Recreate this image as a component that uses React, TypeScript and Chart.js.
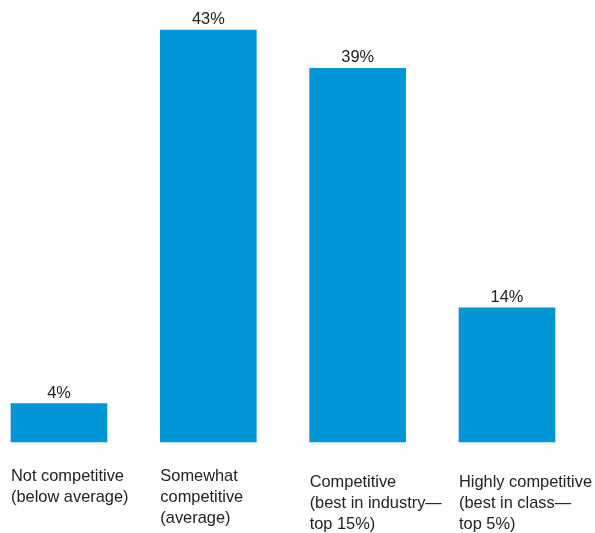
import React, { useEffect, useRef } from "react";
import { Chart, registerables } from "chart.js";

Chart.register(...registerables);

const categories: string[][] = [
  ["Not competitive", "(below average)"],
  ["Somewhat", "competitive", "(average)"],
  ["Competitive", "(best in industry\u2014", "top 15%)"],
  ["Highly competitive", "(best in class\u2014", "top 5%)"],
];
const values: number[] = [4, 43, 39, 14];
const valueLabels: string[] = ["4%", "43%", "39%", "14%"];

const BAR_COLOR = "#0096d6";
const TEXT_COLOR = "#222222";
const FONT = "16.4px 'Liberation Sans', Arial, Helvetica, sans-serif";

const labelPlugin = {
  id: "customLabels",
  afterDatasetsDraw(chart: any) {
    const ctx = chart.ctx as CanvasRenderingContext2D;
    const meta = chart.getDatasetMeta(0);
    const xScale = chart.scales.x;
    const bottom = chart.chartArea.bottom;
    const lineOffsets = [39, 39, 45, 45];
    ctx.save();
    ctx.fillStyle = TEXT_COLOR;
    ctx.font = FONT;
    ctx.textBaseline = "alphabetic";
    meta.data.forEach((bar: any, i: number) => {
      ctx.textAlign = "center";
      ctx.fillText(valueLabels[i], bar.x, bar.y - 6);
      const cx = xScale.getPixelForValue(i);
      const left = cx - bar.width / 2;
      ctx.textAlign = "left";
      categories[i].forEach((line, j) => {
        ctx.fillText(line, left, bottom + lineOffsets[i] + j * 21);
      });
    });
    ctx.restore();
  },
};

export default function App() {
  const ref = useRef<HTMLCanvasElement | null>(null);
  useEffect(() => {
    if (!ref.current) return;
    const chart = new Chart(ref.current, {
      type: "bar",
      data: {
        labels: categories.map((c) => c.join(" ")),
        datasets: [
          {
            data: values,
            backgroundColor: BAR_COLOR,
            borderWidth: 0,
            barThickness: 96,
            clip: false as any,
          },
        ],
      },
      options: {
        animation: false,
        responsive: false,
        layout: { padding: { left: 59, right: 88, top: 30, bottom: 91 } },
        plugins: { legend: { display: false }, tooltip: { enabled: false } },
        scales: {
          x: { display: false, offset: false },
          y: { display: false, min: 0, max: 43 },
        },
      },
      plugins: [labelPlugin],
    });
    return () => chart.destroy();
  }, []);
  return (
    <div style={{ position: "fixed", left: 0, top: 0, width: 595, height: 533, background: "#fff" }}>
      <canvas ref={ref} width={595} height={533} style={{ width: 595, height: 533 }} />
    </div>
  );
}
